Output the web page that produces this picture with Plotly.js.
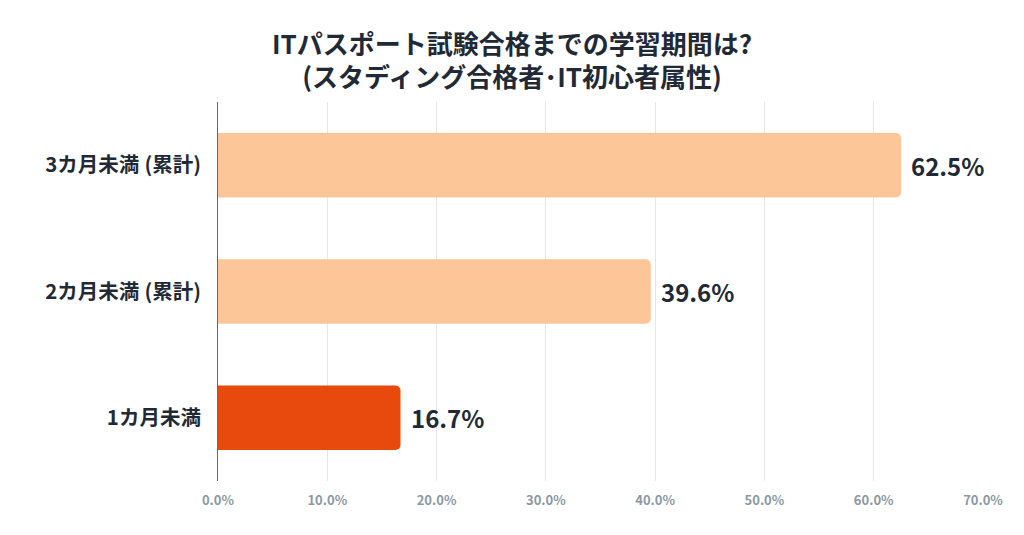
<!DOCTYPE html>
<html><head><meta charset="utf-8">
<script src="https://cdn.plot.ly/plotly-3.0.1.min.js"></script>
<style>html,body{margin:0;padding:0;background:#fff}#chart{width:1024px;height:535px}</style>
</head><body><div id="chart"></div>
<script>
const categories = ["1カ月未満", "2カ月未満\u2005(累計)", "3カ月未満\u2005(累計)"];
const values = [16.7, 39.6, 62.5];
const barColors = ["#e8490c", "#fcc698", "#fcc698"];
const tickVals = [0, 10, 20, 30, 40, 50, 60, 70];
const tickText = ["0.0%", "10.0%", "20.0%", "30.0%", "40.0%", "50.0%", "60.0%", "70.0%"];
const FONT = "'Noto Sans CJK JP', 'Noto Sans', sans-serif";

const trace = {
  type: "bar", orientation: "h",
  x: values, y: categories,
  marker: {color: barColors, cornerradius: 5},
  hoverinfo: "none"
};
const annotations = values.map((v, i) => ({
  x: v, y: categories[i], xref: "x", yref: "y",
  text: v.toFixed(1) + "%", showarrow: false,
  xanchor: "left", yanchor: "middle", xshift: 8,
  font: {family: FONT, size: 24, color: "#1f2a36", weight: 700}
}));
const layout = {
  width: 1024, height: 535,
  margin: {l: 218, r: 41, t: 102, b: 54},
  paper_bgcolor: "#fff", plot_bgcolor: "#fff",
  bargap: 0.49,
  showlegend: false,
  annotations: annotations,
  title: {
    text: "ITパスポート試験合格までの学習期間は?<br>(スタディング合格者･IT初心者属性)",
    x: 0.5, xanchor: "center", y: 0.90, yanchor: "top",
    font: {family: FONT, size: 26, color: "#1f2a36", weight: 700}
  },
  xaxis: {
    range: [0, 70], tickvals: tickVals, ticktext: tickText,
    showgrid: true, gridcolor: "#e3e6ea", gridwidth: 1,
    zeroline: false, showline: false, ticks: "",
    ticklabelstandoff: 10,
    tickfont: {family: FONT, size: 13, color: "#8c98a4", weight: 600},
    fixedrange: true
  },
  yaxis: {
    categoryorder: "array", categoryarray: categories,
    showline: true, linecolor: "#5f6b77", linewidth: 1,
    showgrid: false, zeroline: false, ticks: "",
    ticklabelstandoff: 12,
    tickfont: {family: FONT, size: 20.5, color: "#1f2a36", weight: 700},
    fixedrange: true
  }
};
Plotly.newPlot("chart", [trace], layout, {displayModeBar: false, staticPlot: true});
</script></body></html>
